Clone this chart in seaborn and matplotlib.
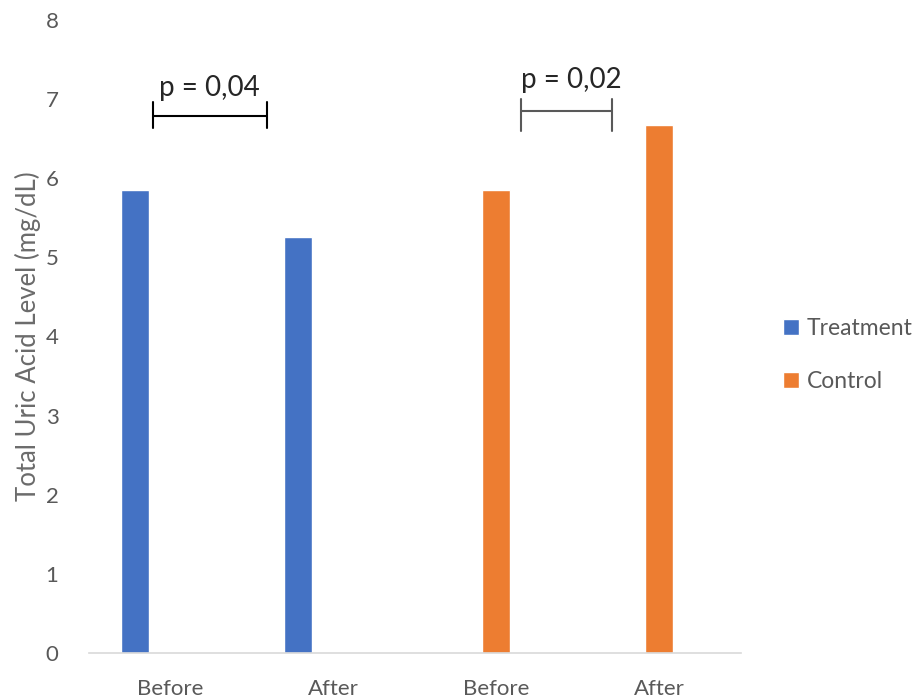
import numpy as np
import pandas as pd
import matplotlib
matplotlib.use("Agg")
import matplotlib.pyplot as plt
from matplotlib.patches import Patch
import seaborn as sns

# data
slots = [0, 1, 2, 3]
slot_labels = ["Before", "After", "Before", "After"]
groups = ["Treatment", "Treatment", "Control", "Control"]
uric_acid = [5.85, 5.26, 5.85, 6.67]

p_texts = ["p = 0,04", "p = 0,02"]

COLORS = {"Treatment": "#4472C4", "Control": "#ED7D31", "spacer": "#ffffff"}
TEXT_GRAY = "#595959"

sns.set_theme(style="white")
plt.rcParams["font.family"] = ["Lato", "DejaVu Sans"]

df = pd.DataFrame({"slot": slots, "group": groups, "value": uric_acid})

fig = plt.figure(figsize=(9.23, 6.98), dpi=100)
ax = fig.add_axes([0.0964, 0.0645, 0.7064, 0.907])

sns.barplot(data=df, x="slot", y="value", hue="group",
            hue_order=["Treatment", "Control", "spacer"],
            palette=COLORS, width=0.66, gap=0.22, dodge=True,
            legend=False, ax=ax, saturation=1)

ax.set_xlim(-0.5, 3.5)
ax.set_ylim(0, 8)
ax.set_yticks(range(0, 9))
ax.set_xticks(slots)
ax.set_xticklabels(slot_labels)
ax.tick_params(axis="x", length=0, pad=19, labelsize=16, labelcolor=TEXT_GRAY)
ax.tick_params(axis="y", length=0, pad=22, labelsize=16, labelcolor=TEXT_GRAY)
ax.set_xlabel("")
ax.set_ylabel("Total Uric Acid Level (mg/dL)", fontsize=18.5, color="#6b6b6b", labelpad=3)
for side in ["top", "right", "left"]:
    ax.spines[side].set_visible(False)
ax.spines["bottom"].set_color("#d9d9d9")
ax.spines["bottom"].set_linewidth(1.2)
ax.grid(False)

# significance brackets
brackets = [(-0.11, 0.595, 6.78, 6.64, 6.96, "#000000"),
            (2.15, 2.71, 6.85, 6.60, 7.00, TEXT_GRAY)]
text_pos = [(0.24, 7.14), (2.46, 7.24)]
for (x0, x1, y, lo, hi, c), txt, (tx, ty) in zip(brackets, p_texts, text_pos):
    ax.plot([x0, x1], [y, y], color=c, lw=1.5, solid_capstyle="butt")
    ax.plot([x0, x0], [lo, hi], color=c, lw=1.5)
    ax.plot([x1, x1], [lo, hi], color=c, lw=1.5)
    ax.text(tx, ty, txt, ha="center", va="center", fontsize=20, color="#262626")

handles = [Patch(facecolor=COLORS["Treatment"], label="Treatment"),
           Patch(facecolor=COLORS["Control"], label="Control")]
fig.legend(handles=handles, loc="center left", bbox_to_anchor=(0.838, 0.492),
           frameon=False, fontsize=16.5, labelcolor=TEXT_GRAY,
           handlelength=0.7, handleheight=0.7, handletextpad=0.35,
           labelspacing=1.4, borderaxespad=0)

fig.savefig("out.png", dpi=100, facecolor="white")
